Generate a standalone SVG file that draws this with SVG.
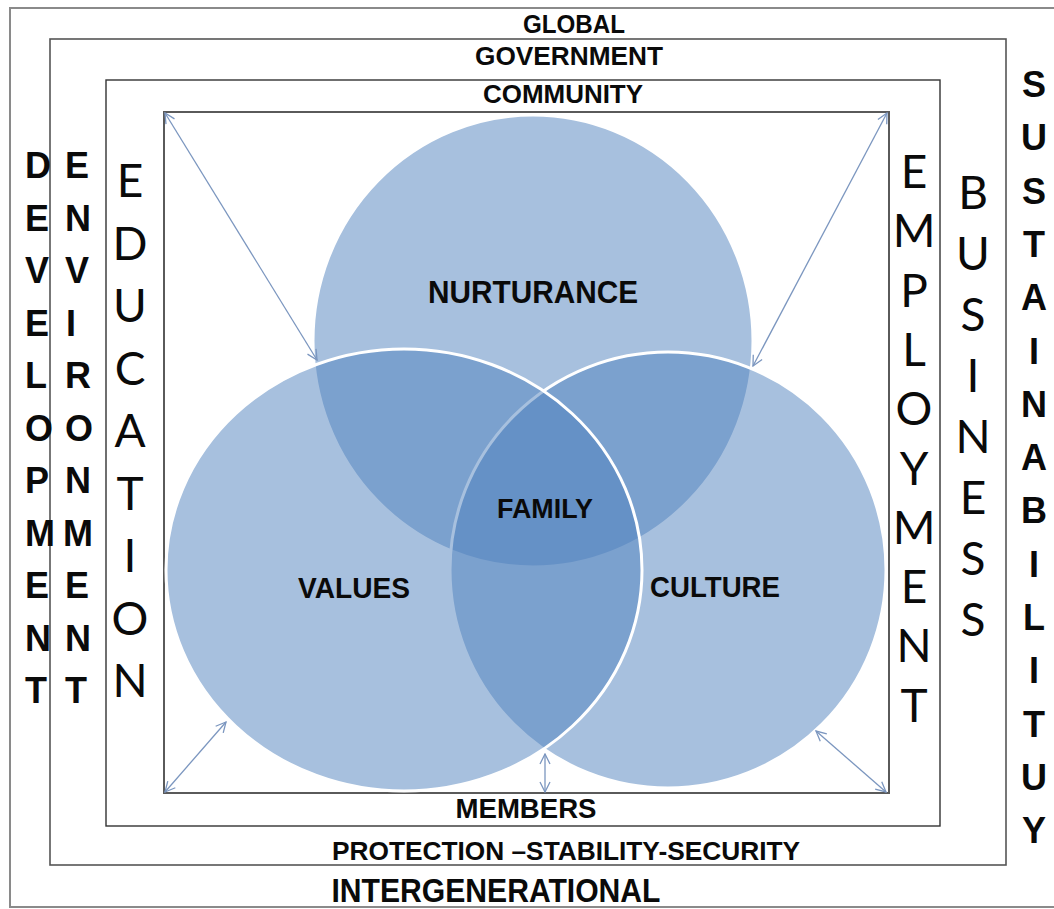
<svg xmlns="http://www.w3.org/2000/svg" width="1054" height="909" viewBox="0 0 1054 909">
<style>
.lbl{font-family:"Liberation Sans",Arial,sans-serif;font-weight:700;fill:#0a0a0a;text-anchor:middle}
.colb{font-family:"Liberation Sans",Arial,sans-serif;font-weight:700;font-size:36px;fill:#0a0a0a}
.colr{font-family:Lato,"Liberation Sans",sans-serif;font-weight:400;font-size:46px;fill:#0a0a0a;text-anchor:middle}
.circ{fill:#4F81BD;fill-opacity:0.5;stroke:#ffffff;stroke-width:3}
.arr{stroke:#7b96bf;stroke-width:1.3;fill:none;marker-start:url(#ah);marker-end:url(#ah)}
</style>
<defs>
<marker id="ah" viewBox="0 0 12 12" refX="11" refY="6" markerWidth="12" markerHeight="12" markerUnits="userSpaceOnUse" orient="auto-start-reverse">
<path d="M1,1 L11,6 L1,11" fill="none" stroke="#7b96bf" stroke-width="1.3"/>
</marker>
</defs>
<rect width="1054" height="909" fill="#ffffff"/>
<g id="frames" fill="none">
<rect x="10" y="8" width="1060" height="899" stroke="#8a8a8a" stroke-width="2"/>
<rect x="50" y="39" width="956" height="826" stroke="#555" stroke-width="1.6"/>
<rect x="106" y="80" width="834" height="746" stroke="#333" stroke-width="1.4"/>
<rect x="164" y="112" width="725" height="681" stroke="#5a5a5a" stroke-width="2"/>
</g>
<g id="circles">
<ellipse id="nurturance-circle" class="circ" cx="533" cy="341" rx="220" ry="226"/>
<ellipse id="culture-circle" class="circ" cx="668" cy="570" rx="218" ry="218"/>
<ellipse id="values-circle" class="circ" cx="404" cy="570" rx="238" ry="221"/>
</g>
<g id="connectors">
<line class="arr" x1="165" y1="113" x2="317" y2="360"/>
<line class="arr" x1="887" y1="113" x2="753" y2="366"/>
<line class="arr" x1="165" y1="792" x2="226" y2="722"/>
<line class="arr" x1="545" y1="754" x2="545" y2="792"/>
<line class="arr" x1="816" y1="731" x2="886" y2="792"/>
</g>
<g id="labels">
<text class="lbl" x="574" y="33" font-size="25" textLength="102" lengthAdjust="spacingAndGlyphs">GLOBAL</text>
<text class="lbl" x="569" y="65" font-size="25" textLength="188" lengthAdjust="spacingAndGlyphs">GOVERNMENT</text>
<text class="lbl" x="563" y="103" font-size="25" textLength="160" lengthAdjust="spacingAndGlyphs">COMMUNITY</text>
<text class="lbl" x="526" y="818" font-size="28" textLength="141" lengthAdjust="spacingAndGlyphs">MEMBERS</text>
<text class="lbl" x="566" y="860" font-size="26" textLength="468" lengthAdjust="spacingAndGlyphs">PROTECTION –STABILITY-SECURITY</text>
<text class="lbl" x="496" y="902" font-size="34" textLength="329" lengthAdjust="spacingAndGlyphs">INTERGENERATIONAL</text>
</g>
<g id="node-nurturance"><text class="lbl" x="533" y="303" font-size="31" textLength="210" lengthAdjust="spacingAndGlyphs">NURTURANCE</text></g>
<g id="node-family"><text class="lbl" x="545" y="518" font-size="28" textLength="96" lengthAdjust="spacingAndGlyphs">FAMILY</text></g>
<g id="node-values"><text class="lbl" x="354" y="598" font-size="29" textLength="112" lengthAdjust="spacingAndGlyphs">VALUES</text></g>
<g id="node-culture"><text class="lbl" x="715" y="597" font-size="30" textLength="130" lengthAdjust="spacingAndGlyphs">CULTURE</text></g>
<g id="col-development"><text class="colb" y="178"><tspan x="25">D</tspan><tspan x="25" dy="52.5">E</tspan><tspan x="25" dy="52.5">V</tspan><tspan x="25" dy="52.5">E</tspan><tspan x="25" dy="52.5">L</tspan><tspan x="25" dy="52.5">O</tspan><tspan x="25" dy="52.5">P</tspan><tspan x="25" dy="52.5">M</tspan><tspan x="25" dy="52.5">E</tspan><tspan x="25" dy="52.5">N</tspan><tspan x="25" dy="52.5">T</tspan></text></g>
<g id="col-environment"><text class="colb" y="178"><tspan x="65">E</tspan><tspan x="65" dy="52.5">N</tspan><tspan x="65" dy="52.5">V</tspan><tspan x="66" dy="52.5">I</tspan><tspan x="65" dy="52.5">R</tspan><tspan x="65" dy="52.5">O</tspan><tspan x="65" dy="52.5">N</tspan><tspan x="63" dy="52.5">M</tspan><tspan x="65" dy="52.5">E</tspan><tspan x="65" dy="52.5">N</tspan><tspan x="65" dy="52.5">T</tspan></text></g>
<g id="col-education"><text class="colr" y="197"><tspan x="130">E</tspan><tspan x="130" dy="62.5">D</tspan><tspan x="130" dy="62.5">U</tspan><tspan x="130" dy="62.5">C</tspan><tspan x="130" dy="62.5">A</tspan><tspan x="130" dy="62.5">T</tspan><tspan x="130" dy="62.5">I</tspan><tspan x="130" dy="62.5">O</tspan><tspan x="130" dy="62.5">N</tspan></text></g>
<g id="col-employment"><text class="colr" y="188"><tspan x="914">E</tspan><tspan x="914" dy="59.3">M</tspan><tspan x="914" dy="59.3">P</tspan><tspan x="914" dy="59.3">L</tspan><tspan x="914" dy="59.3">O</tspan><tspan x="914" dy="59.3">Y</tspan><tspan x="914" dy="59.3">M</tspan><tspan x="914" dy="59.3">E</tspan><tspan x="914" dy="59.3">N</tspan><tspan x="914" dy="59.3">T</tspan></text></g>
<g id="col-business"><text class="colr" y="209"><tspan x="973">B</tspan><tspan x="973" dy="61">U</tspan><tspan x="973" dy="61">S</tspan><tspan x="973" dy="61">I</tspan><tspan x="973" dy="61">N</tspan><tspan x="973" dy="61">E</tspan><tspan x="973" dy="61">S</tspan><tspan x="973" dy="61">S</tspan></text></g>
<g id="col-sustainability"><text class="colb" y="97" text-anchor="middle"><tspan x="1034">S</tspan><tspan x="1034" dy="53.3">U</tspan><tspan x="1034" dy="53.3">S</tspan><tspan x="1034" dy="53.3">T</tspan><tspan x="1034" dy="53.3">A</tspan><tspan x="1034" dy="53.3">I</tspan><tspan x="1034" dy="53.3">N</tspan><tspan x="1034" dy="53.3">A</tspan><tspan x="1034" dy="53.3">B</tspan><tspan x="1034" dy="53.3">I</tspan><tspan x="1034" dy="53.3">L</tspan><tspan x="1034" dy="53.3">I</tspan><tspan x="1034" dy="53.3">T</tspan><tspan x="1034" dy="53.3">U</tspan><tspan x="1034" dy="53.3">Y</tspan></text></g>
</svg>
